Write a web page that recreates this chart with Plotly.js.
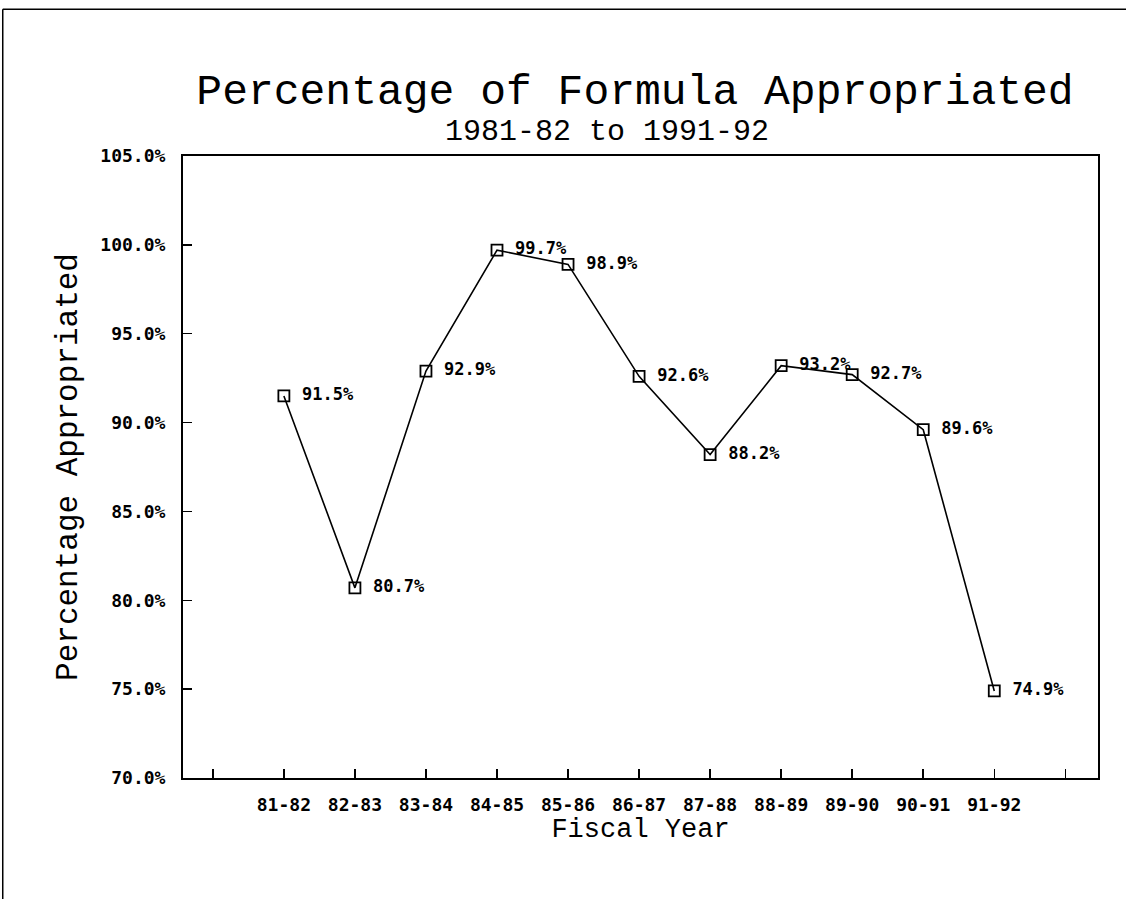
<!DOCTYPE html>
<html>
<head>
<meta charset="utf-8">
<script src="https://cdn.plot.ly/plotly-3.0.1.min.js"></script>
<style>html,body{margin:0;padding:0;background:#fff;}#chart{width:1126px;height:899px;}</style>
</head>
<body>
<div id="chart"></div>
<script>
const categories = ["81-82","82-83","83-84","84-85","85-86","86-87","87-88","88-89","89-90","90-91","91-92"];
const values = [91.5, 80.7, 92.9, 99.7, 98.9, 92.6, 88.2, 93.2, 92.7, 89.6, 74.9];
const yTicks = [70, 75, 80, 85, 90, 95, 100, 105];
const yTickLabels = ["70.0%","75.0%","80.0%","85.0%","90.0%","95.0%","100.0%","105.0%"];
const titleText = "Percentage of Formula Appropriated";
const subtitleText = "1981-82 to 1991-92";

const xIdx = categories.map((c, i) => i);
const xTickVals = [-1].concat(xIdx, [categories.length]);
const xTickText = [""].concat(categories, [""]);

const mono = "DejaVu Sans Mono, Liberation Mono, monospace";
const thin = "Liberation Mono, DejaVu Sans Mono, monospace";

const trace = {
  x: xIdx,
  y: values,
  mode: "lines+markers+text",
  type: "scatter",
  line: {color: "#000", width: 1.6},
  marker: {symbol: "square-open", size: 11, color: "#000", line: {width: 1.8, color: "#000"}},
  text: values.map(v => "\u00a0" + v.toFixed(1) + "%"),
  textposition: "middle right",
  textfont: {family: mono, size: 17, color: "#000", weight: "bold"},
  cliponaxis: false,
  hoverinfo: "skip"
};

const layout = {
  width: 1126, height: 899,
  margin: {l: 183, r: 28, t: 156, b: 121},
  paper_bgcolor: "#fff", plot_bgcolor: "#fff",
  showlegend: false,
  title: {
    text: titleText,
    font: {family: thin, size: 43, color: "#000"},
    x: 635 / 1126, xanchor: "center", xref: "container",
    y: 1 - 89 / 899, yanchor: "middle", yref: "container"
  },
  annotations: [{
    text: subtitleText, showarrow: false,
    xref: "paper", yref: "paper",
    x: (607 - 183) / 915, y: (778 - 132) / 622,
    xanchor: "center", yanchor: "middle",
    font: {family: thin, size: 30, color: "#000"}
  }],
  xaxis: {
    range: [-1.42, 11.46],
    tickmode: "array", tickvals: xTickVals, ticktext: xTickText,
    ticks: "inside", ticklen: 9, tickwidth: 1.5, tickcolor: "#000",
    showline: true, linecolor: "#000", linewidth: 2, mirror: true,
    showgrid: false, zeroline: false,
    tickfont: {family: mono, size: 18, color: "#000", weight: "bold"},
    ticklabelstandoff: 9,
    title: {text: "Fiscal Year", font: {family: thin, size: 27, color: "#000"}, standoff: 4}
  },
  yaxis: {
    range: [70, 105],
    tickmode: "array", tickvals: yTicks, ticktext: yTickLabels,
    ticks: "inside", ticklen: 9, tickwidth: 1.5, tickcolor: "#000",
    showline: true, linecolor: "#000", linewidth: 2, mirror: true,
    showgrid: false, zeroline: false,
    tickfont: {family: mono, size: 18, color: "#000", weight: "bold"},
    ticklabelstandoff: 12,
    title: {text: "Percentage Appropriated", font: {family: thin, size: 31, color: "#000"}, standoff: 14}
  },
  shapes: [
    {type: "line", xref: "paper", yref: "paper", x0: -0.197, x1: 1.04, y0: 1.236, y1: 1.236, line: {color: "#000", width: 1.5}},
    {type: "line", xref: "paper", yref: "paper", x0: -0.197, x1: -0.197, y0: 1.236, y1: -0.2, line: {color: "#000", width: 1.5}}
  ]
};

Plotly.newPlot("chart", [trace], layout, {displayModeBar: false, staticPlot: true});
</script>
</body>
</html>
